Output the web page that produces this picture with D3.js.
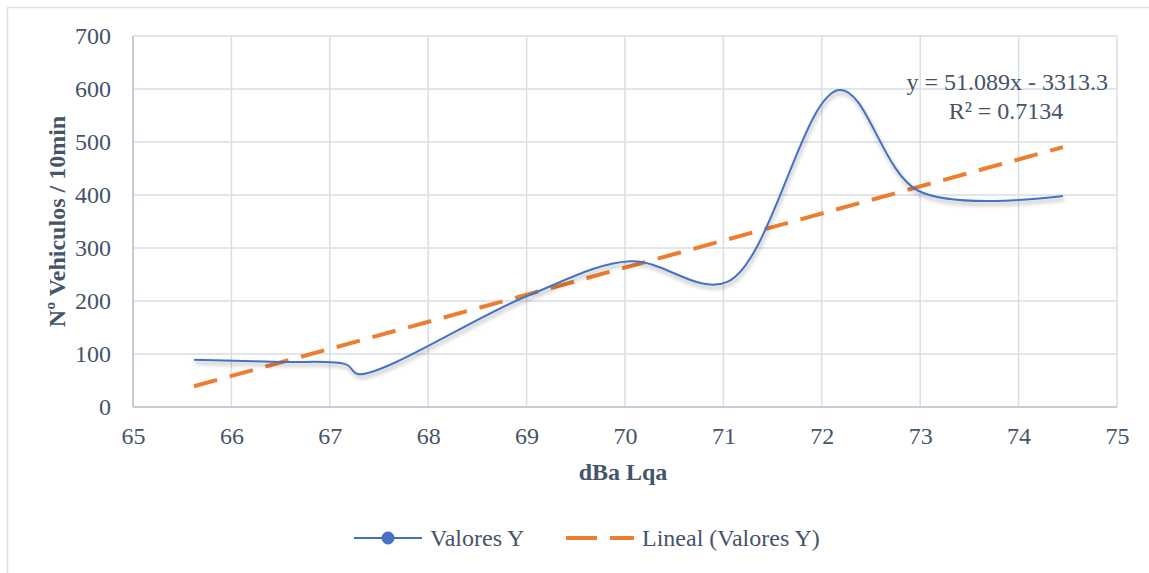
<!DOCTYPE html>
<html><head><meta charset="utf-8">
<script src="https://cdn.jsdelivr.net/npm/d3@7"></script>
<style>html,body{margin:0;padding:0;background:#fff;}</style>
</head><body>
<svg id="chart" width="1149" height="573"></svg>
<script>
const xValues = [65.62, 66.5, 67.17, 67.29, 69.0, 70.05, 71.04, 72.18, 72.98, 74.45];
const yValues = [89, 85, 80, 62, 209, 275, 236, 598, 408, 398];
const xTicks = [65, 66, 67, 68, 69, 70, 71, 72, 73, 74, 75];
const yTicks = [0, 100, 200, 300, 400, 500, 600, 700];
const slope = 51.089, intercept = -3313.3, r2 = 0.7134;
const seriesName = "Valores Y";
const trendName = "Lineal (Valores Y)";
const xTitle = "dBa Lqa";
const yTitle = "Nº Vehiculos / 10min";

const svg = d3.select("#chart");
const font = "'Liberation Serif','Times New Roman',serif";
const fs = 24;
const txt = "#44546a";
const gridC = "#d9dee6";

svg.append("rect").attr("x",7.5).attr("y",7.5).attr("width",1150).attr("height",600)
  .attr("fill","#fff").attr("stroke","#dde2e8").attr("stroke-width",1.5);

const L=133, R=1117, T=36, B=407;
const x = d3.scaleLinear().domain([65,75]).range([L,R]);
const y = d3.scaleLinear().domain([0,700]).range([B,T]);

const defs = svg.append("defs");
const f = defs.append("filter").attr("id","sh").attr("x","-5%").attr("y","-5%").attr("width","110%").attr("height","120%");
f.append("feGaussianBlur").attr("in","SourceAlpha").attr("stdDeviation",2.2).attr("result","b");
f.append("feOffset").attr("in","b").attr("dx",1).attr("dy",3).attr("result","o");
f.append("feComponentTransfer").attr("in","o").attr("result","o2")
  .append("feFuncA").attr("type","linear").attr("slope",0.35);
const m = f.append("feMerge");
m.append("feMergeNode").attr("in","o2");
m.append("feMergeNode").attr("in","SourceGraphic");

// grid
const g = svg.append("g");
g.selectAll(".gx").data(xTicks).join("line")
  .attr("x1",d=>x(d)).attr("x2",d=>x(d)).attr("y1",T).attr("y2",B)
  .attr("stroke",gridC).attr("stroke-width",1.5);
g.selectAll(".gy").data(yTicks).join("line")
  .attr("x1",L).attr("x2",R).attr("y1",d=>y(d)).attr("y2",d=>y(d))
  .attr("stroke",gridC).attr("stroke-width",1.5);
svg.append("line").attr("x1",L).attr("x2",L).attr("y1",T).attr("y2",B).attr("stroke","#bcc5d2").attr("stroke-width",1.5);
svg.append("line").attr("x1",L).attr("x2",R).attr("y1",B).attr("y2",B).attr("stroke","#bcc5d2").attr("stroke-width",1.5);

// axes
const xa = svg.append("g").attr("transform",`translate(0,${B})`)
  .call(d3.axisBottom(x).tickValues(xTicks).tickSize(0).tickFormat(d3.format("d")));
const ya = svg.append("g").attr("transform",`translate(${L},0)`)
  .call(d3.axisLeft(y).tickValues(yTicks).tickSize(0).tickPadding(22).tickFormat(d3.format("d")));
[xa,ya].forEach(a=>{
  a.select(".domain").remove();
  a.selectAll("text").attr("font-family",font).attr("font-size",fs).attr("fill",txt);
});
xa.selectAll("text").attr("y",29).attr("dy","0.35em");

// titles
svg.append("text").attr("x",(L+R)/2-2).attr("y",480).attr("text-anchor","middle")
  .attr("font-family",font).attr("font-size",fs).attr("font-weight","bold").attr("fill",txt).text(xTitle);
svg.append("text").attr("transform",`translate(65,${(T+B)/2}) rotate(-90)`).attr("text-anchor","middle")
  .attr("font-family",font).attr("font-size",fs).attr("font-weight","bold").attr("fill",txt).text(yTitle);

// trend line
const xmin = d3.min(xValues), xmax = d3.max(xValues);
svg.append("line").attr("x1",x(xmin)).attr("y1",y(slope*xmin+intercept))
  .attr("x2",x(xmax)).attr("y2",y(slope*xmax+intercept))
  .attr("stroke","#ed7d31").attr("stroke-width",4).attr("stroke-dasharray","24,13");

// series line
const pts = xValues.map((v,i)=>[v,yValues[i]]);
const line = d3.line().x(d=>x(d[0])).y(d=>y(d[1])).curve(d3.curveCatmullRom.alpha(0.5));
svg.append("path").datum(pts).attr("d",line).attr("fill","none")
  .attr("stroke","#4472c4").attr("stroke-width",2).attr("filter","url(#sh)");

// equation
svg.append("text").attr("x",1108).attr("y",90).attr("text-anchor","end")
  .attr("font-family",font).attr("font-size",fs).attr("fill",txt)
  .text(`y = ${slope}x - ${Math.abs(intercept)}`);
svg.append("text").attr("x",1006).attr("y",119).attr("text-anchor","middle")
  .attr("font-family",font).attr("font-size",fs).attr("fill",txt)
  .text(`R² = ${r2}`);

// legend
const ly = 538;
svg.append("line").attr("x1",354).attr("x2",422).attr("y1",ly).attr("y2",ly).attr("stroke","#4472c4").attr("stroke-width",2);
svg.append("circle").attr("cx",388).attr("cy",ly).attr("r",6).attr("fill","#4472c4").attr("stroke","#3a64b0");
svg.append("text").attr("x",430).attr("y",ly+8).attr("font-family",font).attr("font-size",fs).attr("fill",txt).text(seriesName);
svg.append("line").attr("x1",566).attr("x2",634).attr("y1",ly).attr("y2",ly).attr("stroke","#ed7d31").attr("stroke-width",4).attr("stroke-dasharray","31,13");
svg.append("text").attr("x",642).attr("y",ly+8).attr("font-family",font).attr("font-size",fs).attr("fill",txt).text(trendName);
</script>
</body></html>
